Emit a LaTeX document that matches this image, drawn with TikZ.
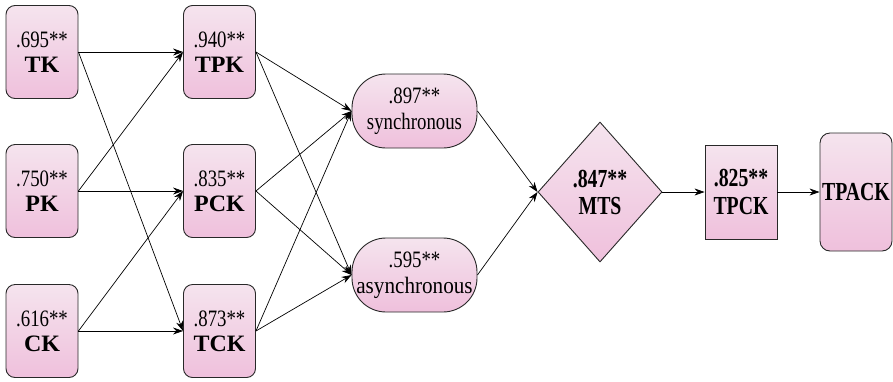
\documentclass[tikz,border=0pt]{standalone}
\usepackage{fontspec}
\setmainfont{Liberation Serif}
% condensed / widened cuts of the serif face used for the labels
\newfontfamily\numfont{Liberation Serif}[FakeStretch=0.8]
\newfontfamily\lblfont{Liberation Serif}[FakeStretch=1.02]
\newfontfamily\tallfont{Liberation Serif}[FakeStretch=0.76]
\newfontfamily\asyncfont{Liberation Serif}[FakeStretch=0.9]
\usetikzlibrary{arrows.meta,shapes.geometric}

\definecolor{pinktop}{RGB}{245,228,238}
\definecolor{pinkbot}{RGB}{239,192,220}
\definecolor{edgegray}{RGB}{40,40,40}

\tikzset{
  pinkfill/.style={draw=edgegray, line width=0.9pt, top color=pinktop,
    bottom color=pinkbot, inner sep=0pt, align=center},
  kbox/.style={pinkfill, rounded corners=9pt, minimum width=72pt,
    minimum height=93pt, font=\fontsize{23.5}{25}\selectfont},
  modebox/.style={pinkfill, rounded corners=34pt, minimum width=125pt,
    minimum height=74pt, font=\fontsize{23.5}{26}\selectfont},
  mtsdiamond/.style={pinkfill, diamond, aspect=0.886, minimum width=124pt,
    minimum height=140pt, font=\fontsize{26}{27}\selectfont},
  tpckbox/.style={pinkfill, minimum width=72pt, minimum height=94pt,
    font=\fontsize{26}{28}\selectfont},
  tpackbox/.style={pinkfill, rounded corners=10pt, minimum width=72pt,
    minimum height=118pt, font=\fontsize{26}{28}\selectfont},
  link/.style={-{Stealth[length=10pt,width=7pt]}, line width=0.7pt, black}
}

\begin{document}
\begin{tikzpicture}[x=1pt,y=-1pt]
\useasboundingbox (0,0) rectangle (893,381);

% knowledge components
\node[kbox] (TK)  at (42,52)  {{\numfont .695**}\\{\lblfont\bfseries TK}};
\node[kbox] (PK)  at (42,191) {{\numfont .750**}\\{\lblfont\bfseries PK}};
\node[kbox] (CK)  at (42,331) {{\numfont .616**}\\{\lblfont\bfseries CK}};

% intersections
\node[kbox] (TPK) at (219.5,52)  {{\numfont .940**}\\{\lblfont\bfseries TPK}};
\node[kbox] (PCK) at (219.5,191) {{\numfont .835**}\\{\lblfont\bfseries PCK}};
\node[kbox] (TCK) at (219.5,331) {{\numfont .873**}\\{\lblfont\bfseries TCK}};

% teaching modes
\node[modebox] (SYN)  at (414.5,111) {{\numfont .897**}\\{\numfont synchronous}};
\node[modebox] (ASYN) at (414.5,275) {{\numfont .595**}\\{\asyncfont asynchronous}};

% outcome chain
\node[mtsdiamond] (MTS) at (600,192) {{\tallfont\bfseries .847**}\\{\tallfont\bfseries MTS}};
\node[tpckbox] (TPCK) at (741,192) {{\tallfont\bfseries .825**}\\{\tallfont\bfseries TPCK}};
\node[tpackbox] (TPACK) at (856,192) {{\tallfont\bfseries TPACK}};

% links between knowledge components
\draw[link] (TK.east) -- (TPK.west);
\draw[link] (TK.east) -- (TCK.west);
\draw[link] (PK.east) -- (TPK.west);
\draw[link] (PK.east) -- (PCK.west);
\draw[link] (CK.east) -- (PCK.west);
\draw[link] (CK.east) -- (TCK.west);

% links to teaching modes
\foreach \src in {TPK,PCK,TCK} {
  \draw[link] (\src.east) -- (SYN.west);
  \draw[link] (\src.east) -- (ASYN.west);
}

% links along the outcome chain
\draw[link] (SYN.east) -- (MTS.west);
\draw[link] (ASYN.east) -- (MTS.west);
\draw[link] (MTS.east) -- (TPCK.west);
\draw[link] (TPCK.east) -- (TPACK.west);
\end{tikzpicture}
\end{document}
